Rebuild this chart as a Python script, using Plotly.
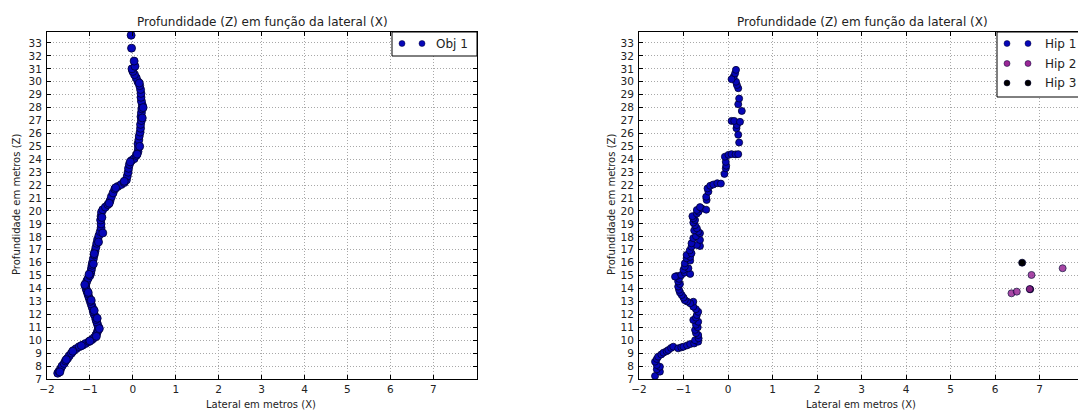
import plotly.graph_objects as go

# ---------------- data ----------------
title_text = "Profundidade (Z) em função da lateral (X)"
xlabel_text = "Lateral em metros (X)"
ylabel_text = "Profundidade em metros (Z)"

x_tickvals = [-2, -1, 0, 1, 2, 3, 4, 5, 6, 7]
y_tickvals = list(range(7, 34))

obj1_x = [-1.75, -1.72, -1.68, -1.65, -1.6, -1.57, -1.52, -1.48, -1.43, -1.38, -1.32, -1.25, -1.17, -1.1,
          -1.02, -0.95, -0.9, -0.86, -0.83, -0.81, -0.8, -0.82, -0.84, -0.86, -0.87, -0.9, -0.92, -0.93,
          -0.95, -0.97, -0.99, -1.01, -1.03, -1.05, -1.07, -1.09, -1.1, -1.09, -1.07, -1.04, -1.0, -0.98,
          -0.97, -0.96, -0.95, -0.94, -0.92, -0.9, -0.88, -0.86, -0.84, -0.82, -0.79, -0.76, -0.74, -0.74,
          -0.75, -0.74, -0.73, -0.7, -0.64, -0.58, -0.53, -0.5, -0.46, -0.42, -0.35, -0.27, -0.2, -0.15,
          -0.13, -0.11, -0.1, -0.08, -0.03, 0.03, 0.08, 0.12, 0.13, 0.12, 0.14, 0.15, 0.17, 0.18, 0.18,
          0.2, 0.19, 0.2, 0.21, 0.22, 0.2, 0.19, 0.19, 0.18, 0.16, 0.12, 0.08, 0.04, 0.0, -0.02, 0.05,
          0.03, -0.03, -0.04,
          -1.7, -1.55, -1.4, -1.2, -1.0, -0.85, -0.78, -0.83, -0.9, -0.97, -1.04, -1.12, -1.02, -0.92,
          -0.9, -0.8, -0.7, -0.72, -0.55, -0.4, -0.2, -0.06, 0.1, 0.16, 0.22, 0.24, 0.15]
obj1_z = [7.45, 7.6, 7.8, 8.0, 8.2, 8.4, 8.6, 8.8, 9.0, 9.2, 9.35, 9.5, 9.62, 9.75,
          9.9, 10.05, 10.2, 10.4, 10.6, 10.8, 11.0, 11.2, 11.4, 11.6, 11.8, 12.0, 12.2, 12.4,
          12.6, 12.8, 13.0, 13.2, 13.4, 13.6, 13.8, 14.0, 14.2, 14.4, 14.6, 14.8, 15.0, 15.2,
          15.4, 15.6, 15.8, 16.0, 16.3, 16.6, 16.9, 17.2, 17.5, 17.8, 18.1, 18.4, 18.7, 19.0,
          19.3, 19.6, 19.9, 20.1, 20.3, 20.5, 20.8, 21.1, 21.4, 21.7, 21.9, 22.05, 22.2, 22.4,
          22.7, 23.0, 23.3, 23.6, 23.9, 24.05, 24.3, 24.6, 24.9, 25.2, 25.5, 25.8, 26.1, 26.4, 26.7,
          27.0, 27.3, 27.6, 27.9, 28.2, 28.5, 28.8, 29.1, 29.4, 29.7, 30.0, 30.3, 30.55, 30.8, 31.0, 31.2,
          31.6, 32.6, 33.6,
          7.55, 8.5, 9.15, 9.58, 9.95, 10.3, 10.9, 11.7, 12.3, 13.1, 13.7, 14.3, 15.1, 15.9,
          16.7, 17.6, 18.3, 19.5, 20.6, 21.8, 22.3, 23.8, 24.4, 25.0, 27.2, 28.0, 29.9]

hip1_x = [-1.64, -1.53, -1.6, -1.53, -1.6, -1.64, -1.6, -1.57, -1.5, -1.45, -1.38, -1.34, -1.28, -1.23,
          -1.12, -1.05, -1.0, -0.92, -0.85, -0.76, -0.67, -0.74, -0.66, -0.67, -0.72, -0.74, -0.68, -0.72,
          -0.67, -0.78, -0.72, -0.7, -0.67, -0.72, -0.78, -0.78, -0.85, -0.92, -0.97, -1.0, -1.04, -1.08,
          -1.1, -1.12, -1.08, -1.12, -1.1, -1.15, -1.19, -1.05, -0.97, -0.85, -1.0, -0.89, -0.97, -0.97,
          -0.85, -0.93, -0.85, -0.93, -0.82, -0.86, -0.82, -0.63, -0.7, -0.82, -0.63, -0.78, -0.72, -0.63,
          -0.67, -0.76, -0.7, -0.74, -0.78, -0.74, -0.78, -0.8, -0.7, -0.66, -0.7, -0.59, -0.63, -0.49,
          -0.48, -0.49, -0.44, -0.46, -0.4, -0.33, -0.24, -0.16, -0.08, -0.05, -0.04, -0.05, -0.07, 0.01,
          0.08, 0.17, 0.23, 0.25, 0.23, 0.19, 0.2, 0.08, 0.14, 0.27, 0.31, 0.23, 0.25, 0.23, 0.2, 0.18,
          0.13, 0.08, 0.16, 0.18]
hip1_z = [7.23, 7.57, 7.75, 7.95, 8.08, 8.34, 8.55, 8.73, 8.9, 9.04, 9.15, 9.24, 9.4, 9.5,
          9.37, 9.45, 9.5, 9.6, 9.7, 9.75, 9.89, 10.0, 10.15, 10.4, 10.55, 10.8, 11.0, 11.2,
          11.43, 11.57, 11.75, 11.95, 12.2, 12.4, 12.6, 12.98, 12.86, 13.0, 13.1, 13.3, 13.5, 13.7,
          13.9, 14.15, 14.35, 14.55, 14.75, 14.97, 14.92, 15.05, 15.23, 15.13, 15.45, 15.57, 15.7, 15.95,
          16.16, 16.34, 16.45, 16.6, 16.73, 16.95, 17.24, 17.29, 17.37, 17.5, 17.76, 17.9, 18.05, 18.28,
          18.4, 18.5, 18.66, 18.9, 19.1, 19.3, 19.44, 19.6, 19.8, 19.95, 20.08, 20.2, 20.3, 20.1,
          20.85, 21.1, 21.5, 21.75, 21.95, 22.05, 22.15, 22.12, 22.87, 23.3, 23.5, 23.8, 24.2, 24.34,
          24.4, 24.38, 24.4, 25.3, 25.9, 26.4, 26.65, 26.97, 26.97, 26.9, 27.74, 28.26, 28.7, 29.5, 29.75, 30.0,
          30.4, 30.2, 30.65, 30.92]

hip3_x = [6.61, 6.79]
hip3_z = [16.0, 13.94]

hip2_x = [6.37, 6.49, 6.78, 6.82, 7.52]
hip2_z = [13.63, 13.76, 13.96, 15.05, 15.57]

# ---------------- layout geometry ----------------
W, H = 1078, 410
ML, MT, MB = 47, 32, 31
PW = W - ML
PH = H - MT - MB

def px2paper_x(px):
    return (px - ML) / PW

def px2paper_y(py):
    return (H - MB - py) / PH

left_dom = [0, px2paper_x(477)]
right_dom = [px2paper_x(639), 1.0]
right_xmax = -2 + (1078 - 639) / 44.5

FONT = "DejaVu Sans"
BLUE = "#0606b8"
EDGE = "#000030"
PURPLE = "#9a2796"

fig = go.Figure()

fig.add_trace(go.Scatter(x=obj1_x, y=obj1_z, mode="markers", name="Obj 1",
                         marker=dict(color=BLUE, size=8, line=dict(color=EDGE, width=0.8)),
                         xaxis="x", yaxis="y", showlegend=False))
mk = dict(size=7, line=dict(color=EDGE, width=0.8))
fig.add_trace(go.Scatter(x=hip1_x, y=hip1_z, mode="markers", name="Hip 1",
                         marker=dict(color=BLUE, **mk), xaxis="x2", yaxis="y2", showlegend=False))
fig.add_trace(go.Scatter(x=hip3_x, y=hip3_z, mode="markers", name="Hip 3",
                         marker=dict(color="#000000", **mk), xaxis="x2", yaxis="y2", showlegend=False))
fig.add_trace(go.Scatter(x=hip2_x, y=hip2_z, mode="markers", name="Hip 2",
                         marker=dict(color=PURPLE, opacity=0.85, **mk), xaxis="x2", yaxis="y2", showlegend=False))

grid = dict(showgrid=True, gridcolor="#a8a8a8", griddash="1px,2px", gridwidth=1)
tickf = dict(family=FONT, size=10.5, color="#222")
common_x = dict(tickmode="array", tickvals=x_tickvals, ticktext=[str(v).replace("-", "\u2212") for v in x_tickvals],
                ticks="inside", ticklen=4, tickcolor="#000", showline=True, linecolor="#000", linewidth=1,
                zeroline=False, tickfont=tickf, **grid)
common_y = dict(tickmode="array", tickvals=y_tickvals, range=[7, 33.85],
                ticks="inside", ticklen=4, tickcolor="#000", showline=True, linecolor="#000", linewidth=1,
                zeroline=False, tickfont=tickf, ticklabelstandoff=2, **grid)

fig.update_layout(
    width=W, height=H,
    margin=dict(l=ML, r=0, t=MT, b=MB, pad=0),
    paper_bgcolor="white", plot_bgcolor="white",
    font=dict(family=FONT, color="#222"),
    xaxis=dict(domain=left_dom, range=[-2, 8.02], anchor="y", mirror="allticks", **common_x),
    yaxis=dict(domain=[0, 1], anchor="x", mirror="allticks", **common_y),
    xaxis2=dict(domain=right_dom, range=[-2, right_xmax], anchor="y2", mirror="allticks", **common_x),
    yaxis2=dict(domain=[0, 1], anchor="x2", mirror=False, **common_y),
)

shapes = []
annotations = []

# titles and axis labels
for cx in (262, 862):
    annotations.append(dict(text=title_text, x=px2paper_x(cx), y=px2paper_y(22), xref="paper", yref="paper",
                            showarrow=False, xanchor="center", yanchor="middle",
                            font=dict(family=FONT, size=12, color="#222")))
    annotations.append(dict(text=xlabel_text, x=px2paper_x(cx - 1), y=px2paper_y(404), xref="paper", yref="paper",
                            showarrow=False, xanchor="center", yanchor="middle",
                            font=dict(family=FONT, size=10, color="#222")))
for lx in (16, 611):
    annotations.append(dict(text=ylabel_text, x=px2paper_x(lx), y=px2paper_y(205), xref="paper", yref="paper",
                            showarrow=False, xanchor="center", yanchor="middle", textangle=-90,
                            font=dict(family=FONT, size=10, color="#222")))

# manual legends (matplotlib style, two markers per entry)
def legend_box(x0, y0, x1, y1):
    shapes.append(dict(type="rect", xref="paper", yref="paper",
                       x0=px2paper_x(x0), x1=px2paper_x(x1), y0=px2paper_y(y0), y1=px2paper_y(y1),
                       line=dict(color="#000", width=1), fillcolor="white", layer="above"))

def legend_entry(mx1, mx2, tx, ty, color, label):
    for mx in (mx1, mx2):
        shapes.append(dict(type="circle", xref="paper", yref="paper", xsizemode="pixel", ysizemode="pixel",
                           xanchor=px2paper_x(mx), yanchor=px2paper_y(ty), x0=-3, x1=3, y0=-3, y1=3,
                           fillcolor=color, line=dict(color=EDGE, width=0.5), layer="above"))
    annotations.append(dict(text=label, x=px2paper_x(tx), y=px2paper_y(ty), xref="paper", yref="paper",
                            showarrow=False, xanchor="left", yanchor="middle",
                            font=dict(family=FONT, size=12, color="#222")))

legend_box(392, 32, 477, 56)
legend_entry(402, 422, 434, 43.5, BLUE, "Obj 1")

legend_box(997, 32, 1095, 97)
legend_entry(1007, 1028, 1043, 43.5, BLUE, "Hip 1")
legend_entry(1007, 1028, 1043, 63.5, PURPLE, "Hip 2")
legend_entry(1007, 1028, 1043, 83, "#000000", "Hip 3")

fig.update_layout(shapes=shapes, annotations=annotations)

fig.write_html("out.html")
